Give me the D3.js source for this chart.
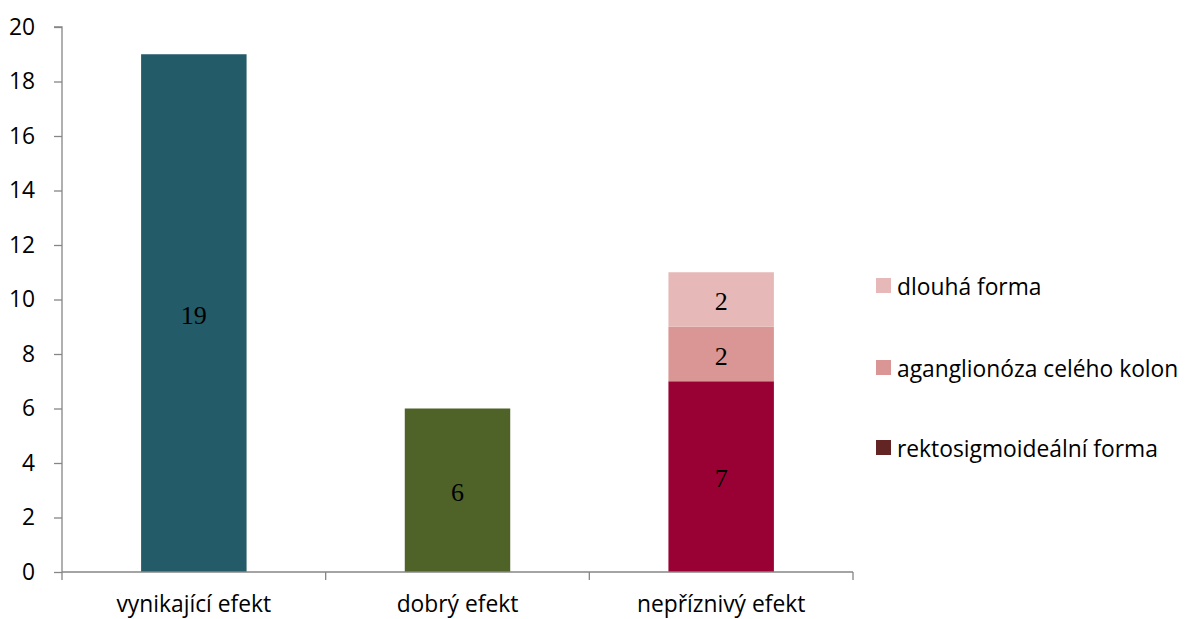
<!DOCTYPE html>
<html>
<head>
<meta charset="utf-8">
<script src="https://cdn.jsdelivr.net/npm/d3@7"></script>
<style>
  html, body { margin: 0; padding: 0; background: #fff; }
  svg { display: block; }
</style>
</head>
<body>
<svg id="chart" width="1191" height="619"></svg>
<script>
// Categories along the x axis
const categories = ["vynikající efekt", "dobrý efekt", "nepříznivý efekt"];
// Single-value bars for the first two categories
const singleValues = [19, 6, null];
const singleColors = ["#235B69", "#4F6228", null];
// Stacked series for the third category (bottom to top)
const stackSeries = ["rektosigmoideální forma", "aganglionóza celého kolon", "dlouhá forma"];
const stackValues = [7, 2, 2];
const stackColors = ["#990033", "#D99694", "#E6B9B8"];
const legendColors = ["#632523", "#D99694", "#E6B9B8"];
const yTicks = [0, 2, 4, 6, 8, 10, 12, 14, 16, 18, 20];

const svg = d3.select("#chart");
const plotLeft = 62, plotRight = 853, plotTop = 27, plotBottom = 572;
const axisColor = "#868686";
const labelFont = "'Open Sans', sans-serif";
const labelSize = 22.8;

const x = d3.scaleBand().domain(categories).range([plotLeft, plotRight]).paddingInner(0).paddingOuter(0);
const y = d3.scaleLinear().domain([0, 20]).range([plotBottom, plotTop]);
const barW = x.bandwidth() * 0.4;

function valueLabel(cx, cy, v) {
  svg.append("text")
    .attr("x", cx).attr("y", cy + 2)
    .attr("text-anchor", "middle").attr("dominant-baseline", "central")
    .attr("font-family", "'Liberation Serif', serif").attr("font-size", 26)
    .attr("fill", "#000").text(v);
}

// Bars
categories.forEach((c, i) => {
  const cx = x(c) + x.bandwidth() / 2;
  if (singleValues[i] != null) {
    svg.append("rect")
      .attr("x", cx - barW / 2).attr("width", barW)
      .attr("y", y(singleValues[i])).attr("height", y(0) - y(singleValues[i]))
      .attr("fill", singleColors[i]);
    valueLabel(cx, (y(singleValues[i]) + y(0)) / 2, singleValues[i]);
  } else {
    let base = 0;
    stackValues.forEach((v, k) => {
      svg.append("rect")
        .attr("x", cx - barW / 2).attr("width", barW)
        .attr("y", y(base + v)).attr("height", y(base) - y(base + v))
        .attr("fill", stackColors[k]);
      valueLabel(cx, (y(base + v) + y(base)) / 2, v);
      base += v;
    });
  }
});

// Y axis
const yAxis = svg.append("g").attr("transform", `translate(${plotLeft},0)`)
  .call(d3.axisLeft(y).tickValues(yTicks).tickSize(8).tickPadding(19));
yAxis.select(".domain").attr("stroke", axisColor).attr("stroke-width", 1.3)
  .attr("d", `M-8,${plotTop}H0V${plotBottom}`);
yAxis.selectAll(".tick line").attr("stroke", axisColor).attr("stroke-width", 1.3);
yAxis.selectAll(".tick text").attr("font-family", labelFont).attr("font-size", labelSize).attr("fill", "#000");

// X axis
const xAxisG = svg.append("g").attr("transform", `translate(0,${plotBottom})`);
xAxisG.append("line").attr("x1", plotLeft).attr("x2", plotRight).attr("y1", 0).attr("y2", 0)
  .attr("stroke", axisColor).attr("stroke-width", 1.3);
const bounds = categories.map(c => x(c)).concat([x(categories[categories.length - 1]) + x.bandwidth()]);
bounds.forEach(b => {
  xAxisG.append("line").attr("x1", b).attr("x2", b).attr("y1", 0).attr("y2", 8)
    .attr("stroke", axisColor).attr("stroke-width", 1.3);
});
categories.forEach(c => {
  xAxisG.append("text")
    .attr("x", x(c) + x.bandwidth() / 2).attr("y", 40)
    .attr("text-anchor", "middle")
    .attr("font-family", labelFont).attr("font-size", labelSize).attr("fill", "#000")
    .text(c);
});

// Legend (top to bottom: reverse of stacking order)
const legendY = [286, 368, 448];
const legendOrder = [2, 1, 0];
legendOrder.forEach((k, j) => {
  const g = svg.append("g").attr("transform", `translate(876,${legendY[j]})`);
  g.append("rect").attr("x", 0).attr("y", -8).attr("width", 15).attr("height", 15).attr("fill", legendColors[k]);
  g.append("text").attr("x", 21).attr("y", 0).attr("dominant-baseline", "central")
    .attr("font-family", labelFont).attr("font-size", labelSize).attr("fill", "#000")
    .text(stackSeries[k]);
});
</script>
</body>
</html>
